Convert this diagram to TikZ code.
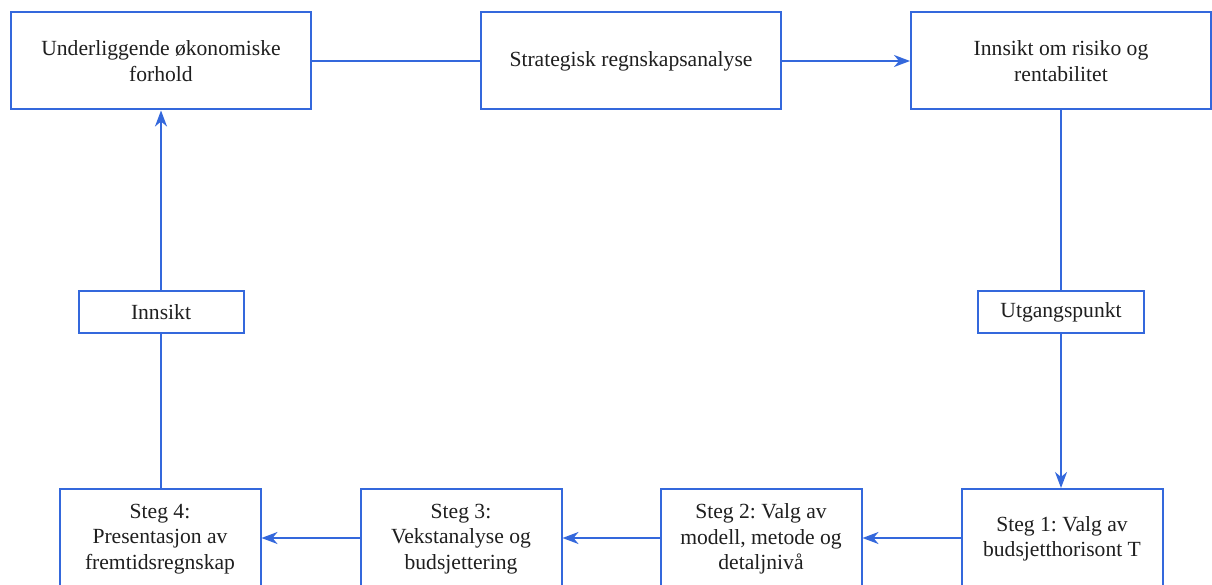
\documentclass[tikz,border=0pt]{standalone}
\usepackage{fontspec}
\setmainfont{LiberationSerif}[Extension=.ttf, UprightFont=*-Regular, BoldFont=*-Bold]
\usetikzlibrary{arrows.meta}
\definecolor{flowblue}{RGB}{52,104,220}
\frenchspacing
\tikzset{
  box/.style={draw=flowblue, line width=2pt, fill=white, align=center,
    inner sep=0pt, font=\rmfamily\fontsize{21.6}{25.5}\selectfont, text=black!88},
  bigbox/.style={box, minimum width=300pt, minimum height=97pt},
  lowbox/.style={box, minimum width=201pt, minimum height=100pt},
  tagbox/.style={box, minimum height=42pt},
  link/.style={draw=flowblue, line width=2pt},
  flow/.style={link, -{Stealth[length=16pt,width=12pt,inset=5pt]}}
}
\begin{document}
\begin{tikzpicture}[x=1pt,y=-1pt]
\useasboundingbox (0,0) rectangle (1212,585);
\clip (0,0) rectangle (1212,585);

% top row
\node[bigbox] (econ) at (161,61) {Underliggende økonomiske\\forhold};
\node[bigbox] (strat) at (631,61) {Strategisk regnskapsanalyse};
\node[bigbox] (risk) at (1061,61) {Innsikt om risiko og\\rentabilitet};

% side labels
\node[tagbox, minimum width=165pt] (insight) at (161,312) {Innsikt};
\node[tagbox, minimum width=166pt] (start) at (1061,312) {Utgangspunkt};

% bottom row (steps)
\node[lowbox] (s4) at (160,539) {Steg 4:\\Presentasjon av\\fremtidsregnskap};
\node[lowbox] (s3) at (461,539) {Steg 3:\\Vekstanalyse og\\budsjettering};
\node[lowbox] (s2) at (761,539) {Steg 2: Valg av\\modell, metode og\\detaljnivå};
\node[lowbox] (s1) at (1062,539) {Steg 1: Valg av\\budsjetthorisont T};

% connectors
\draw[link] (econ.east) -- (strat.west);
\draw[flow] (strat.east) -- (risk.west);
\draw[link] (risk.south -| start.north) -- (start.north);
\draw[flow] (start.south) -- (start.south |- s1.north);
\draw[flow] (s1.west |- 0,538) -- (s2.east |- 0,538);
\draw[flow] (s2.west |- 0,538) -- (s3.east |- 0,538);
\draw[flow] (s3.west |- 0,538) -- (s4.east |- 0,538);
\draw[link] (s4.north -| insight.south) -- (insight.south);
\draw[flow] (insight.north) -- (insight.north |- econ.south);
\end{tikzpicture}
\end{document}
